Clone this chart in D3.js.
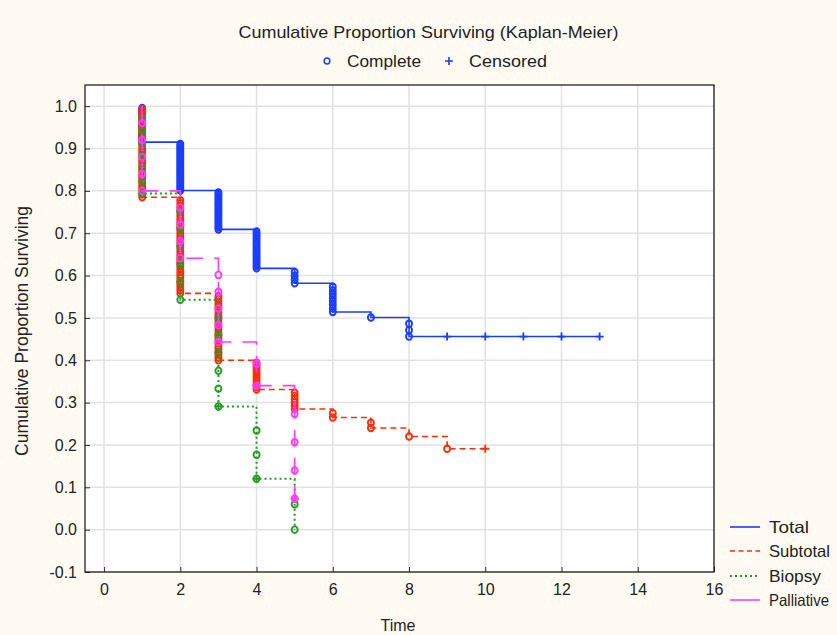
<!DOCTYPE html>
<html><head><meta charset="utf-8">
<script src="https://cdn.jsdelivr.net/npm/d3@7"></script>
<style>
body{margin:0;background:#fffbf2;}
svg{display:block;font-family:"Liberation Sans",Arial,sans-serif;}
</style>
</head><body>
<svg id="chart" width="837" height="635"></svg>
<script>
// ---------- data ----------
const categories = ["Total", "Subtotal", "Biopsy", "Palliative"];
const xTicks = [0, 2, 4, 6, 8, 10, 12, 14, 16];
const yTicks = [-0.1, 0.0, 0.1, 0.2, 0.3, 0.4, 0.5, 0.6, 0.7, 0.8, 0.9, 1.0];
const yTickLabels = ["-0.1","0.0","0.1","0.2","0.3","0.4","0.5","0.6","0.7","0.8","0.9","1.0"];

const totalTimes    = [1, 2, 3, 4, 5, 6, 7, 8];
const totalSurv     = [0.915, 0.801, 0.709, 0.617, 0.582, 0.514, 0.501, 0.456];
const totalEvents   = [20, 26, 20, 18, 4, 8, 1, 3];
const totalCensored = [9, 10, 11, 12, 13];
const totalEnd      = 13;

const subtotalTimes    = [1, 2, 3, 4, 5, 6, 7, 8, 9];
const subtotalSurv     = [0.785, 0.558, 0.400, 0.331, 0.285, 0.265, 0.240, 0.220, 0.191];
const subtotalEvents   = [32, 32, 24, 12, 6, 2, 2, 1, 1];
const subtotalCensored = [10];
const subtotalEnd      = 10;

const biopsyTimes    = [1, 2, 3, 4, 5];
const biopsySurv     = [0.794, 0.543, 0.291, 0.120, 0.000];
const biopsyEvents   = [7, 6, 6, 3, 2];
const biopsyCensored = [3, 4];
const biopsyEnd      = 5;

const palliativeTimes    = [1, 2, 3, 4, 5];
const palliativeSurv     = [0.800, 0.641, 0.443, 0.340, 0.073];
const palliativeEvents   = [5, 4, 5, 2, 4];
const palliativeCensored = [4, 5];
const palliativeEnd      = 5;

// ---------- styles ----------
const series = [
  {name: categories[0], times: totalTimes, surv: totalSurv, events: totalEvents, censored: totalCensored, end: totalEnd,
   color: "#1a3dff", dash: null, width: 1.6},
  {name: categories[1], times: subtotalTimes, surv: subtotalSurv, events: subtotalEvents, censored: subtotalCensored, end: subtotalEnd,
   color: "#ff2d0a", dash: "6,4", width: 1.6},
  {name: categories[2], times: biopsyTimes, surv: biopsySurv, events: biopsyEvents, censored: biopsyCensored, end: biopsyEnd,
   color: "#229c22", dash: "2,3", width: 2},
  {name: categories[3], times: palliativeTimes, surv: palliativeSurv, events: palliativeEvents, censored: palliativeCensored, end: palliativeEnd,
   color: "#ff3cff", dash: "17,11", width: 1.6}
];

const svg = d3.select("#chart");
const W = 837, H = 635;
const L = 85, T = 85, R = 714, B = 572;

svg.append("rect").attr("x",0).attr("y",0).attr("width",W).attr("height",H).attr("fill","#fffbf2");
svg.append("rect").attr("x",L).attr("y",T).attr("width",R-L).attr("height",B-T).attr("fill","#ffffff");

const x = d3.scaleLinear().domain([-0.5, 16]).range([L, R]);
const y = d3.scaleLinear().domain([-0.1, 1.05]).range([B, T]);

// grid
const grid = svg.append("g");
grid.selectAll("line.v").data(xTicks).enter().append("line")
  .attr("x1", d => x(d)).attr("x2", d => x(d)).attr("y1", T).attr("y2", B)
  .attr("stroke", "#e2e2e2").attr("stroke-width", 1.5);
grid.selectAll("line.h").data(yTicks).enter().append("line")
  .attr("x1", L).attr("x2", R).attr("y1", d => y(d)).attr("y2", d => y(d))
  .attr("stroke", "#e2e2e2").attr("stroke-width", 1.5);

// axes
const yAxis = d3.axisLeft(y).tickValues(yTicks)
  .tickFormat((d, i) => yTickLabels[i]).tickSizeInner(-5).tickSizeOuter(0).tickPadding(8);
const xAxis = d3.axisBottom(x).tickValues(xTicks)
  .tickFormat(d => String(d)).tickSizeInner(-5).tickSizeOuter(0).tickPadding(12);

const gy = svg.append("g").attr("transform", `translate(${L},0)`).call(yAxis);
const gx = svg.append("g").attr("transform", `translate(0,${B})`).call(xAxis);
[gx, gy].forEach(g => {
  g.select(".domain").remove();
  g.selectAll("line").attr("stroke", "#333");
  g.selectAll("text").attr("font-size", 16).attr("fill", "#222").attr("font-family", "Liberation Sans, Arial, sans-serif");
});

// frame
svg.append("rect").attr("x",L).attr("y",T).attr("width",R-L).attr("height",B-T)
  .attr("fill","none").attr("stroke","#111").attr("stroke-width",1.2);

// curves
const line = d3.line().x(d => x(d[0])).y(d => y(d[1]));
function stepPoints(s) {
  const pts = [[s.times[0], 1.0]];
  s.times.forEach((t, i) => {
    pts.push([t, s.surv[i]]);
    const next = i + 1 < s.times.length ? s.times[i + 1] : s.end;
    if (next > t) pts.push([next, s.surv[i]]);
  });
  return pts;
}
function survAt(s, t) {
  let v = 1.0;
  s.times.forEach((tt, i) => { if (tt <= t) v = s.surv[i]; });
  return v;
}

series.forEach(s => {
  const g = svg.append("g");
  g.append("path").datum(stepPoints(s)).attr("d", line)
    .attr("fill", "none").attr("stroke", s.color).attr("stroke-width", s.width)
    .attr("stroke-dasharray", s.dash);
  // complete (event) markers
  const marks = [];
  s.times.forEach((t, i) => {
    const prev = i === 0 ? 1.0 : s.surv[i - 1];
    const n = s.events[i];
    for (let k = 1; k <= n; k++) marks.push([t, prev - k * (prev - s.surv[i]) / n]);
  });
  g.selectAll("ellipse").data(marks).enter().append("ellipse")
    .attr("cx", d => x(d[0])).attr("cy", d => y(d[1]))
    .attr("rx", 3).attr("ry", 3.3)
    .attr("fill", "none").attr("stroke", s.color).attr("stroke-width", 1.9);
  // censored markers
  g.selectAll("path.cens").data(s.censored).enter().append("path")
    .attr("class", "cens")
    .attr("d", d => { const cx = x(d), cy = y(survAt(s, d)); return `M${cx-4},${cy}H${cx+4}M${cx},${cy-4}V${cy+4}`; })
    .attr("stroke", s.color).attr("stroke-width", 1.8).attr("fill", "none");
});

// title
svg.append("text").attr("x", 428.5).attr("y", 32).attr("text-anchor", "middle")
  .attr("dominant-baseline", "central").attr("font-size", 17).attr("fill", "#222")
  .attr("textLength", 380).attr("lengthAdjust", "spacingAndGlyphs")
  .text("Cumulative Proportion Surviving (Kaplan-Meier)");

// top legend
svg.append("ellipse").attr("cx", 327).attr("cy", 61).attr("rx", 2.8).attr("ry", 3)
  .attr("fill", "none").attr("stroke", "#1a3dff").attr("stroke-width", 1.5);
svg.append("text").attr("x", 347).attr("y", 61).attr("dominant-baseline", "central")
  .attr("font-size", 17).attr("fill", "#222").attr("textLength", 74).attr("lengthAdjust", "spacingAndGlyphs").text("Complete");
svg.append("path").attr("d", "M445,61H453M449,57V65").attr("stroke", "#1a3dff").attr("stroke-width", 1.6);
svg.append("text").attr("x", 469).attr("y", 61).attr("dominant-baseline", "central")
  .attr("font-size", 17).attr("fill", "#222").attr("textLength", 78).attr("lengthAdjust", "spacingAndGlyphs").text("Censored");

// axis titles
svg.append("text").attr("transform", "translate(22,331) rotate(-90)").attr("text-anchor", "middle")
  .attr("dominant-baseline", "central").attr("font-size", 17.5).attr("fill", "#222")
  .text("Cumulative Proportion Surviving");
svg.append("text").attr("x", 398).attr("y", 625).attr("text-anchor", "middle")
  .attr("dominant-baseline", "central").attr("font-size", 16).attr("fill", "#222").text("Time");

// right legend
const legY = [527, 551, 576, 600];
const legLen = [40, 61, 52, 60];
series.forEach((s, i) => {
  svg.append("line").attr("x1", 730).attr("x2", 760).attr("y1", legY[i]).attr("y2", legY[i])
    .attr("stroke", s.color).attr("stroke-width", s.width)
    .attr("stroke-dasharray", i === 3 ? null : (i === 1 ? "5,3.5" : s.dash));
  svg.append("text").attr("x", 769).attr("y", legY[i]).attr("dominant-baseline", "central")
    .attr("font-size", 16.5).attr("fill", "#222")
    .attr("textLength", legLen[i]).attr("lengthAdjust", "spacingAndGlyphs").text(s.name);
});
</script>
</body></html>
